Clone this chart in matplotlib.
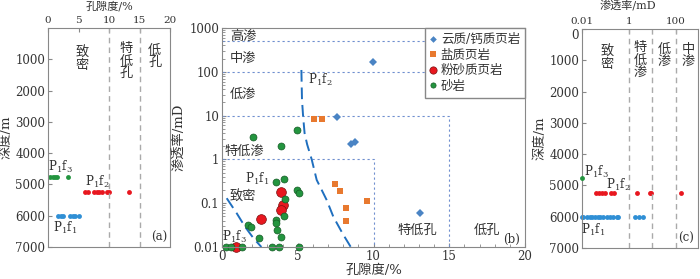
import numpy as np
import matplotlib
matplotlib.use('Agg')
import matplotlib.pyplot as plt
from matplotlib.ticker import LogLocator, MultipleLocator, NullFormatter, FixedLocator

# フォント設定（数字はセリフ、漢字はCJK）
plt.rcParams['font.family'] = ['DejaVu Serif', 'Noto Sans CJK SC']
plt.rcParams['mathtext.fontset'] = 'dejavuserif'
plt.rcParams['font.size'] = 8

# ---- (a) 孔隙度-深度 ----
a_f3_phi = [0.33, 0.77, 1.15, 1.5, 3.3]
a_f3_dep = [4750] * 5
a_f2_phi = [6.07, 6.6, 7.5, 8.0, 8.4, 8.85, 9.6, 10.05, 13.2]
a_f2_dep = [5250] * 9
a_f1_phi = [1.7, 2.08, 2.5, 3.6, 4.05, 4.4, 5.08]
a_f1_dep = [6000] * 7

# ---- (b) 孔隙度-渗透率 ----
dolo_phi = [7.57, 8.5, 8.78, 9.99, 13.1]
dolo_k = [9.5, 2.2, 2.45, 170, 0.059]
salt_phi = [6.07, 6.58, 7.46, 7.79, 8.18, 8.18, 9.55]
salt_k = [8.3, 8.3, 0.27, 0.19, 0.077, 0.039, 0.11]
silt_phi = [0.9, 2.6, 3.89, 4.0, 3.87]
silt_k = [0.01, 0.044, 0.18, 0.091, 0.07]
sand_phi = [0.26, 0.57, 1.3, 1.7, 1.9, 2.47, 2.07, 3.28, 3.76, 5.1, 3.87, 4.97,
            3.58, 4.09, 4.97, 5.1, 4.18, 4.09, 3.56, 3.56, 3.65, 3.87]
sand_k = [0.01, 0.01, 0.01, 0.032, 0.028, 0.016, 3.2, 0.01, 0.01, 0.01, 2.0, 4.7,
          0.31, 0.35, 0.2, 0.175, 0.123, 0.052, 0.041, 0.036, 0.025, 0.017]
# 境界曲線
curve1_phi = [0.31, 0.97, 1.52, 2.07, 2.6]
curve1_k = [0.13, 0.059, 0.029, 0.016, 0.01]
curve2_phi = [5.24, 5.28, 5.35, 5.45, 5.62, 5.92, 6.25, 6.9, 7.35, 7.97, 8.5]
curve2_k = [110, 23, 10, 4, 2.2, 1, 0.34, 0.12, 0.049, 0.02, 0.01]

# ---- (c) 渗透率-深度 ----
c_f3_k = [0.01]
c_f3_dep = [4750]
c_f2_k = [0.038, 0.053, 0.073, 0.10, 0.17, 0.24, 2.25, 7.8, 9.2, 162]
c_f2_dep = [5250] * 10
c_f1_k = [0.01, 0.0114, 0.0159, 0.022, 0.0275, 0.036, 0.0466, 0.058, 0.081,
          0.112, 0.155, 0.215, 0.30, 0.35, 1.8, 2.7, 4.1]
c_f1_dep = [6000] * 17

GREEN = '#23953f'
RED = '#e8171f'
BLUE = '#2f8fd5'
DIAM = '#4a84c4'
ORANGE = '#e8792f'
SPINE = '#888888'
TXT = '#333333'
LBL = 9.5   # 漢字ラベルの大きさ

fig = plt.figure(figsize=(7, 2.79), dpi=100)
axa = fig.add_axes([48/700, 1-247/279, 122/700, 219/279])
axb = fig.add_axes([222/700, 1-247/279, 303/700, 219/279])
axc = fig.add_axes([582/700, 1-248/279, 116/700, 219/279])

for ax in (axa, axb, axc):
    for s in ax.spines.values():
        s.set_color(SPINE)
    ax.tick_params(which='both', direction='in', colors=SPINE, labelcolor=TXT,
                   labelsize=8.5, pad=2)
    ax.tick_params(which='major', length=3)
    ax.tick_params(which='minor', length=2)
# 上側の目盛ラベルは少し小さく
for ax in (axa, axc):
    ax.tick_params(axis='x', labelsize=7.5, pad=2)

def vtext(ax, x, y, s, **kw):
    ax.text(x, y, '\n'.join(s), ha='center', va='center', linespacing=0.95,
            fontsize=LBL, color=TXT, **kw)

# (a)
axa.plot(a_f3_phi, a_f3_dep, 'o', color=GREEN, ms=3.5, mew=0)
axa.plot(a_f2_phi, a_f2_dep, 'o', color=RED, ms=3.5, mew=0)
axa.plot(a_f1_phi, a_f1_dep, 'o', color=BLUE, ms=3.5, mew=0)
axa.axvline(10, color='#aaaaaa', ls=(0, (4, 3)), lw=1)
axa.axvline(15, color='#aaaaaa', ls=(0, (4, 3)), lw=1)
axa.set_xlim(0, 20)
axa.set_ylim(7000, 0)
axa.xaxis.tick_top()
axa.set_xticks([0, 5, 10, 15, 20])
axa.set_yticks([1000, 2000, 3000, 4000, 5000, 6000, 7000])
fig.text(109/700, 0.998, '孔隙度/%', ha='center', va='top', color=TXT, fontsize=8)
axa.set_ylabel('深度/m', color=TXT, labelpad=2, fontsize=LBL)
vtext(axa, 5.6, 1000, '致密')
vtext(axa, 12.8, 1050, '特低孔')
vtext(axa, 17.5, 900, '低孔')
axa.text(2.0, 4450, r'P$_1$f$_3$', ha='center', va='center', color=TXT, fontsize=8.5)
axa.text(8.0, 4920, r'P$_1$f$_2$', ha='center', va='center', color=TXT, fontsize=8.5)
axa.text(2.8, 6400, r'P$_1$f$_1$', ha='center', va='center', color=TXT, fontsize=8.5)
axa.text(19.5, 6700, '(a)', ha='right', va='center', color=TXT, fontsize=8.5)

# (b)
dot = dict(color='#6f8fcf', ls=(0, (2, 2.5)), lw=0.8)
axb.plot([0, 20], [500, 500], **dot)
axb.plot([0, 20], [100, 100], **dot)
axb.plot([0, 15, 15], [10, 10, 0.01], **dot)
axb.plot([0, 10, 10], [1, 1, 0.01], **dot)
axb.plot(curve1_phi, curve1_k, color='#1f6fbf', ls=(0, (6, 3)), lw=1.4)
axb.plot(curve2_phi, curve2_k, color='#1f6fbf', ls=(0, (6, 3)), lw=1.4)
axb.plot(dolo_phi, dolo_k, 'D', color=DIAM, ms=4.5, mew=0, label='云质/钙质页岩', clip_on=False)
axb.plot(salt_phi, salt_k, 's', color=ORANGE, ms=5, mew=0, label='盐质页岩', clip_on=False)
axb.plot(silt_phi, silt_k, 'o', color=RED, ms=7, mec='#7a1010', mew=0.5, label='粉砂质页岩', clip_on=False)
axb.plot(sand_phi, sand_k, 'o', color=GREEN, ms=5, mec='#155a25', mew=0.5, label='砂岩', clip_on=False)
axb.set_yscale('log')
axb.set_xlim(0, 20)
axb.set_ylim(0.01, 1000)
axb.set_xticks([0, 5, 10, 15, 20])
axb.xaxis.set_minor_locator(MultipleLocator(1))
axb.yaxis.set_minor_locator(LogLocator(base=10, subs=np.arange(2, 10)))
axb.yaxis.set_minor_formatter(NullFormatter())
axb.set_yticks([0.01, 0.1, 1, 10, 100, 1000])
axb.set_yticklabels(['0.01', '0.1', '1', '10', '100', '1000'])
axb.set_xlabel('孔隙度/%', color=TXT, labelpad=1, fontsize=LBL)
axb.set_ylabel('渗透率/mD', color=TXT, labelpad=3, fontsize=LBL)
for x, y, s in [(1.4, 630, '高渗'), (1.4, 200, '中渗'), (1.4, 30, '低渗'),
                (1.5, 1.5, '特低渗'), (1.4, 0.14, '致密'),
                (12.9, 0.024, '特低孔'), (17.5, 0.024, '低孔')]:
    axb.text(x, y, s, ha='center', va='center', fontsize=LBL, color=TXT)
axb.text(2.3, 0.35, r'P$_1$f$_1$', ha='center', va='center', color=TXT, fontsize=8.5)
axb.text(0.85, 0.017, r'P$_1$f$_3$', ha='center', va='center', color=TXT, fontsize=8.5)
axb.text(6.5, 65, r'P$_1$f$_2$', ha='center', va='center', color=TXT, fontsize=8.5)
axb.text(19.7, 0.015, '(b)', ha='right', va='center', color=TXT, fontsize=8.5)
leg = axb.legend(loc='upper right', bbox_to_anchor=(1, 1), borderaxespad=0,
                 fancybox=False, framealpha=1, edgecolor=SPINE, fontsize=9,
                 handlelength=0.6, handletextpad=0.3, labelspacing=0.2,
                 borderpad=0.4, markerscale=0.75)
for t in leg.get_texts():
    t.set_color(TXT)

# (c)
axc.plot(c_f3_k, c_f3_dep, 'o', color=GREEN, ms=3.5, mew=0, clip_on=False, zorder=5)
axc.plot(c_f2_k, c_f2_dep, 'o', color=RED, ms=3.5, mew=0)
axc.plot(c_f1_k, c_f1_dep, 'o', color=BLUE, ms=3.5, mew=0, clip_on=False)
for v in (1, 10, 100):
    axc.axvline(v, color='#aaaaaa', ls=(0, (4, 3)), lw=1)
axc.set_xscale('log')
axc.set_xlim(0.01, 900)
axc.set_ylim(7000, 0)
axc.xaxis.tick_top()
axc.xaxis.set_major_locator(FixedLocator([0.01, 1, 100]))
axc.set_xticklabels(['0.01', '1', '100'])
axc.xaxis.set_minor_locator(LogLocator(base=10, subs=np.arange(2, 10)))
axc.xaxis.set_minor_formatter(NullFormatter())
axc.set_yticks([0, 1000, 2000, 3000, 4000, 5000, 6000, 7000])
axc.get_yticklabels()[0].set_va('top')
fig.text(628/700, 0.998, '渗透率/mD', ha='center', va='top', color=TXT, fontsize=8)
axc.set_ylabel('深度/m', color=TXT, labelpad=2, fontsize=LBL)
vtext(axc, 0.116, 950, '致密')
vtext(axc, 3.0, 1000, '特低渗')
vtext(axc, 34, 850, '低渗')
vtext(axc, 350, 850, '中渗')
axc.text(0.0125, 4580, r'P$_1$f$_3$', ha='left', va='center', color=TXT, fontsize=8.5)
axc.text(0.35, 4980, r'P$_1$f$_2$', ha='center', va='center', color=TXT, fontsize=8.5)
axc.text(0.03, 6420, r'P$_1$f$_1$', ha='center', va='center', color=TXT, fontsize=8.5)
axc.text(600, 6700, '(c)', ha='right', va='center', color=TXT, fontsize=8.5)

fig.savefig('out.png', dpi=100)
